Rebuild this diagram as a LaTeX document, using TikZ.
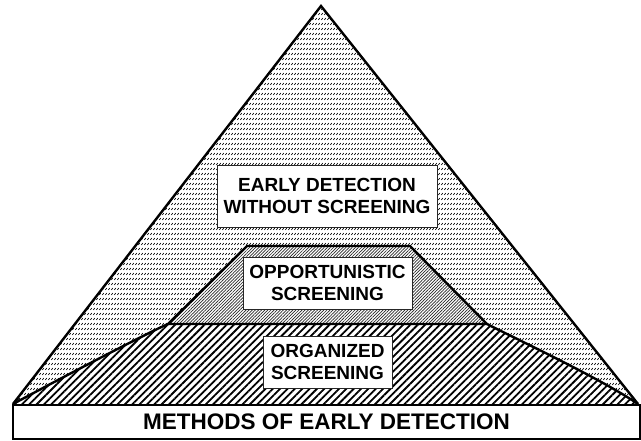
\documentclass[tikz,border=0pt]{standalone}
\usepackage{fontspec}
\setmainfont{Liberation Sans}
\usetikzlibrary{patterns,patterns.meta}
\pgfdeclarepattern{
  name=rowslash,
  type=uncolored,
  bottom left={\pgfpoint{0pt}{0pt}},
  top right={\pgfpoint{3pt}{5pt}},
  tile size={\pgfpoint{3pt}{5pt}},
  code={
    \pgfsetlinewidth{0.8pt}
    \pgfpathmoveto{\pgfpoint{0.5pt}{1.3pt}}
    \pgfpathlineto{\pgfpoint{2.3pt}{3.5pt}}
    \pgfusepath{stroke}
  }
}
\tikzset{
  outline/.style={line width=2.4pt, line join=miter},
  labelbox/.style={draw=black!85, line width=0.9pt, fill=white, inner sep=0pt,
    font=\bfseries\fontsize{19}{22}\selectfont, align=center},
}
\begin{document}
\begin{tikzpicture}[x=1pt,y=-1pt]
\useasboundingbox (0,0) rectangle (641,441);
% coordinates
\coordinate (apex) at (321,6);
\coordinate (bl) at (13,404);
\coordinate (br) at (638,404);
\coordinate (ol) at (168,324);
\coordinate (or) at (487,324);
\coordinate (tl) at (247,246);
\coordinate (tr) at (410,246);
% outer triangle
\fill[white] (bl) -- (apex) -- (br) -- cycle;
\fill[pattern=rowslash, pattern color=black] (bl) -- (apex) -- (br) -- cycle;
% organized region
\fill[white] (bl) .. controls (50,384) and (145,334) .. (ol) -- (or) .. controls (510,336) and (600,378) .. (br) -- cycle;
\fill[pattern={Lines[angle=45,distance=5.2pt,line width=1.8pt]}, pattern color=black]
  (bl) .. controls (50,384) and (145,334) .. (ol) -- (or) .. controls (510,336) and (600,378) .. (br) -- cycle;
\draw[outline] (bl) .. controls (50,384) and (145,334) .. (ol);
\draw[outline] (or) .. controls (510,336) and (600,378) .. (br);
% opportunistic trapezoid
\fill[white] (ol) -- (tl) -- (tr) -- (or) -- cycle;
\fill[pattern={Lines[angle=45,distance=2.2pt,line width=0.7pt]}, pattern color=black!85]
  (ol) -- (tl) -- (tr) -- (or) -- cycle;
\draw[outline] (ol) -- (tl) -- (tr) -- (or) -- cycle;
% triangle outline
\draw[outline] (bl) -- (apex) -- (br);
% bottom bar
\node[draw=black, line width=1.3pt, fill=white, minimum width=627pt, minimum height=34pt, inner sep=0pt,
  font=\bfseries\fontsize{22.5}{26}\selectfont] (bar) at (326.5,422) {METHODS OF EARLY DETECTION};
% label boxes
\node[labelbox, minimum width=220pt, minimum height=62pt] (eds) at (327,196)
  {EARLY DETECTION\\WITHOUT SCREENING};
\node[labelbox, minimum width=169pt, minimum height=52pt] (ops) at (327.5,283)
  {OPPORTUNISTIC\\SCREENING};
\node[labelbox, minimum width=129pt, minimum height=52pt] (org) at (327.5,362)
  {ORGANIZED\\SCREENING};
\end{tikzpicture}
\end{document}
